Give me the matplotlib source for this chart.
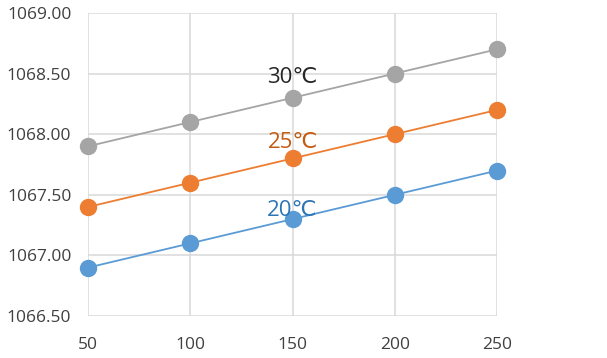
import matplotlib
matplotlib.use("Agg")
import matplotlib.pyplot as plt

# ── Data ──────────────────────────────────────────────────────────────────────
x_vals = [50, 100, 150, 200, 250]
t30 = [1067.9, 1068.1, 1068.3, 1068.5, 1068.7]
t25 = [1067.4, 1067.6, 1067.8, 1068.0, 1068.2]
t20 = [1066.9, 1067.1, 1067.3, 1067.5, 1067.7]
series_labels = ["30\u2103", "25\u2103", "20\u2103"]
y_ticks = [1066.5, 1067.0, 1067.5, 1068.0, 1068.5, 1069.0]

LINE_COLORS = ["#A5A5A5", "#ED7D31", "#5B9BD5"]
TEXT_COLORS = ["#262626", "#C55A11", "#2E75B6"]
LABEL_POS = [(150, 1068.47), (150, 1067.93), (150, 1067.37)]

plt.rcParams["font.family"] = ["Open Sans", "DejaVu Sans"]

fig = plt.figure(figsize=(6.07, 3.58), dpi=100)
ax = fig.add_axes([0.145, 0.117, 0.674, 0.847])

for ys, lc, tc, lbl, (lx, ly) in zip([t30, t25, t20], LINE_COLORS, TEXT_COLORS,
                                     series_labels, LABEL_POS):
    ax.plot(x_vals, ys, color=lc, linewidth=1.3, marker="o", markersize=11.5,
            markerfacecolor=lc, markeredgecolor=lc, zorder=3, clip_on=False)
    ax.text(lx, ly, lbl, color=tc, fontsize=16, ha="center", va="center")

ax.set_xlim(50, 250)
ax.set_ylim(1066.5, 1069.0)
ax.set_xticks(x_vals)
ax.set_yticks(y_ticks)
ax.set_yticklabels([f"{v:.2f}" for v in y_ticks])
ax.grid(True, color="#D9D9D9", linewidth=1.1)
ax.set_axisbelow(True)
for s in ax.spines.values():
    s.set_visible(False)
ax.tick_params(length=0, labelsize=12.5, colors="#404040")
ax.tick_params(axis="y", pad=12)
ax.tick_params(axis="x", pad=15)

fig.savefig("out.png", dpi=100)
